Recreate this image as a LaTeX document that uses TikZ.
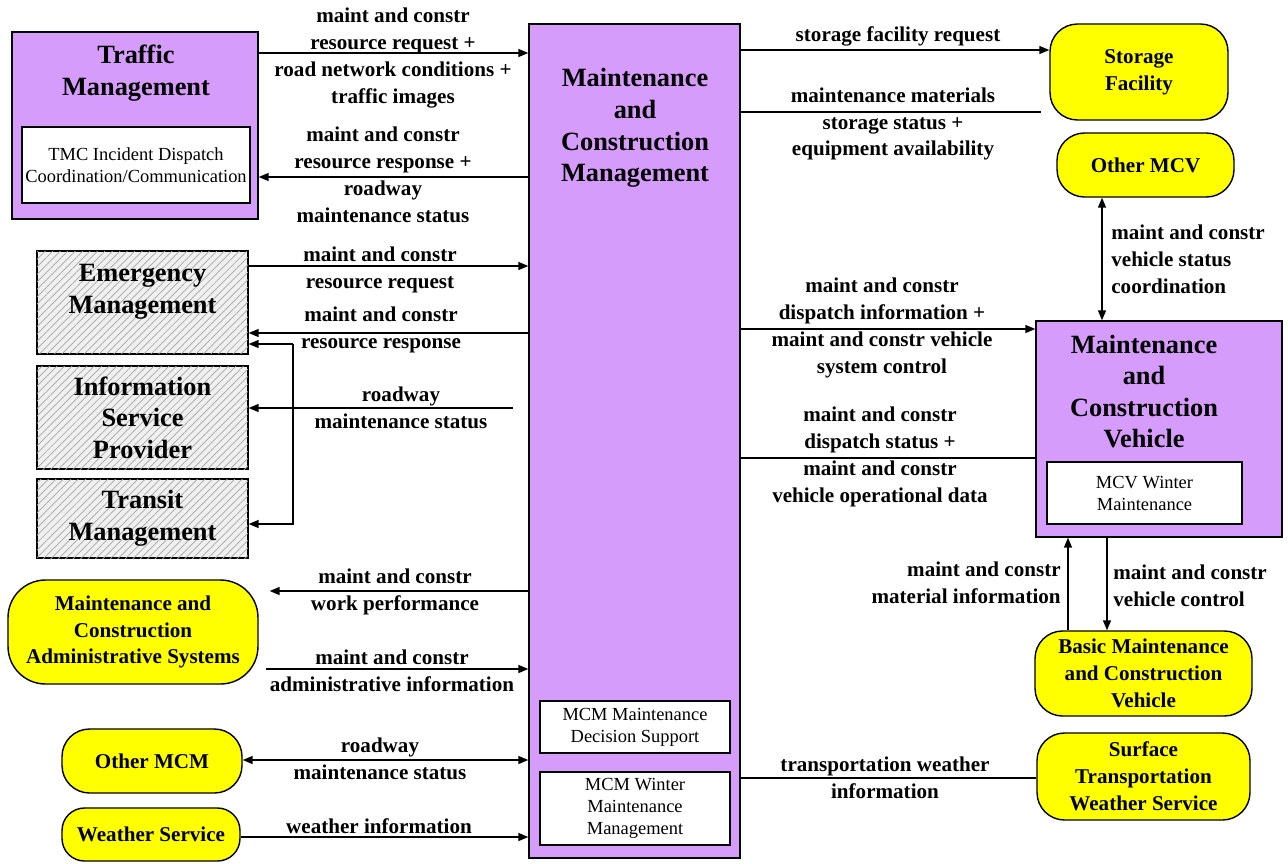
\documentclass[tikz,border=0pt]{standalone}
\usepackage{fontspec}
\setmainfont{Liberation Serif}
\usepackage{tikz}
\usetikzlibrary{arrows.meta,patterns.meta}
\definecolor{ssp}{HTML}{D69CFC}
\definecolor{term}{HTML}{FFFF00}

\begin{document}
\begin{tikzpicture}[x=0.02cm,y=-0.02cm,
  pbox/.style={draw,line width=0.8pt,fill=ssp,inner sep=2pt},
  sbox/.style={draw,line width=0.8pt,fill=white,align=center,inner sep=1pt,font=\fontsize{10.5}{12.5}\selectfont},
  hbox/.style={draw,line width=0.8pt,fill=gray!12,align=center,font=\fontsize{15}{18}\selectfont\bfseries,
    postaction={pattern={Lines[angle=45,distance=3pt,line width=0.4pt]},pattern color=gray!70}},
  ybox/.style={draw,line width=0.8pt,fill=term,rounded corners=0.55cm,align=center,font=\fontsize{12}{15.3}\selectfont\bfseries},
  ttl/.style={align=center,font=\fontsize{15}{18}\selectfont\bfseries},
  lbl/.style={align=center,inner sep=0pt,font=\fontsize{12}{15.3}\selectfont\bfseries},
  lin/.style={line width=0.8pt},
  arr/.style={lin,-{Triangle[length=2mm,width=1.6mm]}},
  arr2/.style={lin,{Triangle[length=2mm,width=1.6mm]}-{Triangle[length=2mm,width=1.6mm]}}]
\useasboundingbox (0,0) rectangle (1288,863);
% centre
\node[pbox,minimum width=4.22cm,minimum height=16.68cm] (mcm) at (634.5,441) {};
\node[ttl] (mcmt) at (635,128) {Maintenance\\and\\Construction\\Management};
\node[sbox,minimum width=3.8cm,minimum height=1.04cm] (mds) at (635,727) {MCM Maintenance\\Decision Support};
\node[sbox,minimum width=3.8cm,minimum height=1.46cm] (mwm) at (635,808.5) {MCM Winter\\Maintenance\\Management};
% left side
\node[pbox,minimum width=4.92cm,minimum height=3.74cm] (tm) at (135,125.5) {};
\node[ttl] (tmt) at (136,73) {Traffic\\Management};
\node[sbox,minimum width=4.56cm,minimum height=1.52cm] (tmc) at (136,165) {TMC Incident Dispatch\\Coordination/Communication};
\node[hbox,minimum width=4.22cm,minimum height=2.06cm,text depth=0.55cm] (em) at (142.5,302.5) {Emergency\\Management};
\node[hbox,minimum width=4.22cm,minimum height=2.06cm] (isp) at (142.5,417.5) {Information\\Service\\Provider};
\node[hbox,minimum width=4.22cm,minimum height=1.58cm] (tr) at (142.5,518.5) {Transit\\Management};
\node[ybox,minimum width=5cm,minimum height=2.08cm,rounded corners=0.75cm] (mcas) at (133,632) {Maintenance and\\Construction\\Administrative Systems};
\node[ybox,minimum width=3.6cm,minimum height=1.28cm] (omcm) at (152,761) {Other MCM};
\node[ybox,minimum width=3.56cm,minimum height=1.06cm,rounded corners=0.45cm] (ws) at (151,834.5) {Weather Service};
% right side
\node[ybox,minimum width=3.56cm,minimum height=1.92cm] (sf) at (1139,72) {Storage\\Facility};
\node[ybox,minimum width=3.54cm,minimum height=1.28cm] (omcv) at (1145.5,165) {Other MCV};
\node[pbox,minimum width=4.92cm,minimum height=4.32cm] (mcv) at (1159,429) {};
\node[ttl] (mcvt) at (1144,391.5) {Maintenance\\and\\Construction\\Vehicle};
\node[sbox,minimum width=3.9cm,minimum height=1.24cm] (mcvw) at (1144.5,493) {MCV Winter\\Maintenance};
\node[ybox,minimum width=4.34cm,minimum height=1.7cm] (bmcv) at (1143.5,673.5) {Basic Maintenance\\and Construction\\Vehicle};
\node[ybox,minimum width=4.26cm,minimum height=1.74cm] (stws) at (1143.5,776.5) {Surface\\Transportation\\Weather Service};
% flows left
\draw[arr] (tm.east|-0,53) -- (mcm.west|-0,53);
\draw[arr] (mcm.west|-0,177) -- (tm.east|-0,177);
\draw[arr] (em.east|-0,266) -- (mcm.west|-0,266);
\draw[arr] (mcm.west|-0,333) -- (em.east|-0,333);
\coordinate (br) at (293,344);
\draw[arr] (br) -- (em.east|-br);
\draw[arr] (br) |- (tr.east|-0,524);
\coordinate (rms) at (513,408);
\draw[arr] (rms) -- (isp.east|-rms);
\draw[arr,shorten >=0.22cm] (mcm.west|-0,591) -- (mcas.east|-0,591);
\draw[arr,shorten <=0.15cm] (mcas.east|-0,669) -- (mcm.west|-0,669);
\draw[arr2] (omcm.east|-0,760) -- (mcm.west|-0,760);
\draw[arr] (ws.east|-0,837) -- (mcm.west|-0,837);
% flows right
\draw[arr] (mcm.east|-0,50) -- (sf.west|-0,50);
\draw[lin,shorten >=0.16cm] (mcm.east|-0,112) -- (sf.west|-0,112);
\draw[arr2] (omcv.south-|1102,0) -- (mcv.north-|1102,0);
\draw[arr] (mcm.east|-0,329) -- (mcv.west|-0,329);
\draw[lin] (mcm.east|-0,458) -- (mcv.west|-0,458);
\draw[arr] (bmcv.north-|1068,0) -- (mcv.south-|1068,0);
\draw[arr] (mcv.south-|1107,0) -- (bmcv.north-|1107,0);
\draw[lin] (stws.west|-0,778) -- (mcm.east|-0,778);
% labels
\node[lbl] (l1) at (393,58) {maint and constr\\resource request +\\road network conditions +\\traffic images};
\node[lbl] (l2) at (383,175) {maint and constr\\resource response +\\roadway\\maintenance status};
\node[lbl] (l3) at (380,270) {maint and constr\\resource request};
\node[lbl] (l4) at (381,330) {maint and constr\\resource response};
\node[lbl] (l5) at (401,408) {roadway\\maintenance status};
\node[lbl] (l6) at (395,592) {maint and constr\\work performance};
\node[lbl] (l7) at (392,671) {maint and constr\\administrative information};
\node[lbl] (l8) at (380,759) {roadway\\maintenance status};
\node[lbl] (l9) at (379,826) {weather information};
\node[lbl] (l10) at (898,36) {storage facility request};
\node[lbl] (l11) at (893,124) {maintenance materials\\storage status +\\equipment availability};
\node[lbl] (l12) at (882,328) {maint and constr\\dispatch information +\\maint and constr vehicle\\system control};
\node[lbl] (l13) at (880,457) {maint and constr\\dispatch status +\\maint and constr\\vehicle operational data};
\node[lbl,anchor=west,align=left] (l14) at (1111,259) {maint and constr\\vehicle status\\coordination};
\node[lbl,anchor=east,align=right] (l15) at (1061,583) {maint and constr\\material information};
\node[lbl,anchor=west,align=left] (l16) at (1113,586) {maint and constr\\vehicle control};
\node[lbl] (l17) at (885,778) {transportation weather\\information};
\end{tikzpicture}
\end{document}
